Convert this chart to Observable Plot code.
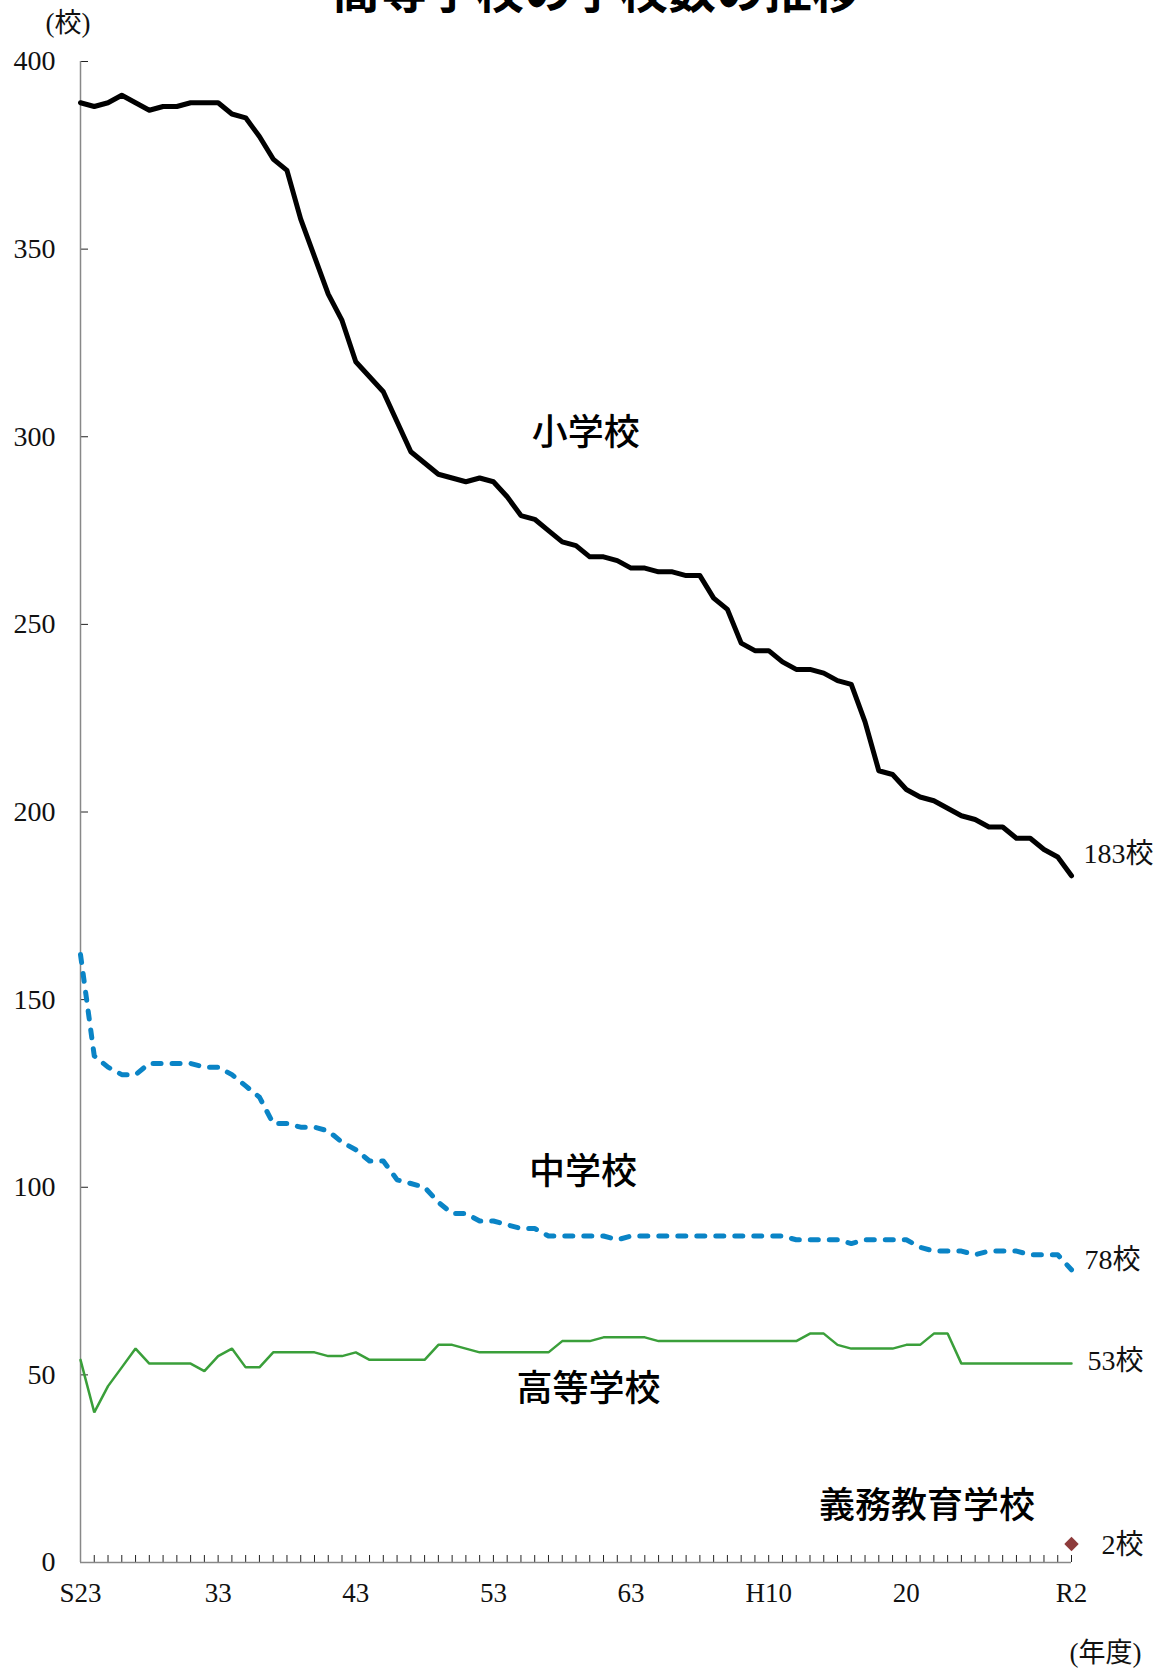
<!DOCTYPE html>
<html><head><meta charset="utf-8">
<script src="https://cdn.jsdelivr.net/npm/d3@7"></script>
<script src="https://cdn.jsdelivr.net/npm/@observablehq/plot@0.6"></script>
<style>
body{margin:0;background:#fff;width:1158px;overflow:hidden}
#title{position:relative;height:14px;overflow:hidden;width:1158px}
#title div{position:absolute;left:0;top:-37px;width:1158px;height:48px;text-align:center;font:700 48px/48px "Noto Sans CJK JP",sans-serif;color:#000;padding-left:34px;box-sizing:border-box;white-space:nowrap}
#chart svg{display:block}
</style></head><body>
<div id="title"><div>高等学校の学校数の推移</div></div>
<div id="chart"></div>
<script>
const years = [1948,1949,1950,1951,1952,1953,1954,1955,1956,1957,1958,1959,1960,1961,1962,1963,1964,1965,1966,1967,1968,1969,1970,1971,1972,1973,1974,1975,1976,1977,1978,1979,1980,1981,1982,1983,1984,1985,1986,1987,1988,1989,1990,1991,1992,1993,1994,1995,1996,1997,1998,1999,2000,2001,2002,2003,2004,2005,2006,2007,2008,2009,2010,2011,2012,2013,2014,2015,2016,2017,2018,2019,2020];
const elementary = [389,388,389,391,389,387,388,388,389,389,389,386,385,380,374,371,358,348,338,331,320,316,312,304,296,293,290,289,288,289,288,284,279,278,275,272,271,268,268,267,265,265,264,264,263,263,257,254,245,243,243,240,238,238,237,235,234,224,211,210,206,204,203,201,199,198,196,196,193,193,190,188,183];
const juniorHigh = [162,135,132,130,130,133,133,133,133,132,132,130,127,124,117,117,116,116,115,112,110,107,107,102,101,100,96,93,93,91,91,90,89,89,87,87,87,87,87,86,87,87,87,87,87,87,87,87,87,87,87,87,86,86,86,86,85,86,86,86,86,84,83,83,83,82,83,83,83,82,82,82,78];
const highSchool = [54,40,47,52,57,53,53,53,53,51,55,57,52,52,56,56,56,56,55,55,56,54,54,54,54,54,58,58,57,56,56,56,56,56,56,59,59,59,60,60,60,60,59,59,59,59,59,59,59,59,59,59,59,61,61,58,57,57,57,57,58,58,61,61,53,53,53,53,53,53,53,53,53];
const gimuYears = [2020];
const gimuValues = [2];
const xTickYears = [1948,1958,1968,1978,1988,1998,2008,2020];
const xTickLabels = ["S23","33","43","53","63","H10","20","R2"];
const yTicks = [0,50,100,150,200,250,300,350,400];
const seriesNames = ["小学校","中学校","高等学校","義務教育学校"];
const endLabels = ["183校","78校","53校","2校"];
const unitLabels = ["(校)","(年度)"];

const rows = years.map((year,i)=>({year, elem: elementary[i], jhs: juniorHigh[i], hs: highSchool[i]}));
const gimu = gimuYears.map((year,i)=>({year, v: gimuValues[i]}));
const last = [rows[rows.length-1]];
const serif = '"Liberation Serif", "Noto Sans CJK JP", serif';
const gothic = '"Noto Sans CJK JP", sans-serif';

const W=1158,H=1655,mt=47,mb=107,ml=80,mr=87;
const frameW=W-ml-mr, frameH=H-mt-mb;

const nameStyle = {fontFamily: gothic, fontSize: 36, fontWeight: 500, fill: "#000"};
const numStyle = {fontFamily: serif, fontSize: 28, fill: "#111", textAnchor: "start"};

const chart = Plot.plot({
  width: W, height: H,
  marginTop: mt, marginBottom: mb, marginLeft: ml, marginRight: mr,
  x: {domain: [1948, 2020], label: null},
  y: {domain: [0, 400], label: null},
  style: {fontFamily: serif, fontSize: "27px", color: "#111", background: "#fff", overflow: "visible"},
  marks: [
    Plot.ruleX(years, {x: d => d, stroke: "#222", strokeWidth: 1, insetTop: frameH - 7}),
    Plot.ruleY(yTicks, {y: d => d, stroke: "#222", strokeWidth: 1, insetRight: frameW - 8}),
    Plot.ruleX([1948], {stroke: "#888", strokeWidth: 1.5}),
    Plot.ruleY([0], {stroke: "#888", strokeWidth: 1.5}),
    Plot.axisY({ticks: yTicks, tickSize: 0, tickPadding: 25, fontSize: 28, fontFamily: serif, label: null}),
    Plot.axisX({ticks: xTickYears, tickSize: 0, tickPadding: 20, fontSize: 27, fontFamily: serif, label: null,
      tickFormat: d => xTickLabels[xTickYears.indexOf(d)]}),
    Plot.line(rows, {x: "year", y: "hs", stroke: "#3a9f3a", strokeWidth: 2.5, strokeLinejoin: "miter"}),
    Plot.line(rows, {x: "year", y: "jhs", stroke: "#0a84c6", strokeWidth: 5, strokeDasharray: "8,11", strokeLinecap: "round", strokeLinejoin: "round"}),
    Plot.line(rows, {x: "year", y: "elem", stroke: "#000", strokeWidth: 5, strokeLinejoin: "round"}),
    Plot.dot(gimu, {x: "year", y: "v", symbol: "diamond2", r: 6.5, fill: "#8e3b3b", stroke: null, dy: -11}),
    Plot.text([seriesNames[0]], {x: 1984.7, y: 301, ...nameStyle}),
    Plot.text([seriesNames[1]], {x: 1984.5, y: 104, ...nameStyle}),
    Plot.text([seriesNames[2]], {x: 1984.9, y: 46, ...nameStyle}),
    Plot.text([seriesNames[3]], {x: 2009.5, y: 15, ...nameStyle}),
    Plot.text(last, {x: "year", y: "elem", text: () => endLabels[0], dx: 12, dy: -22, ...numStyle}),
    Plot.text(last, {x: "year", y: "jhs", text: () => endLabels[1], dx: 13, dy: -10, ...numStyle}),
    Plot.text(last, {x: "year", y: "hs", text: () => endLabels[2], dx: 16, dy: -3, ...numStyle}),
    Plot.text(gimu, {x: "year", y: "v", text: () => endLabels[3], dx: 30, dy: -10, ...numStyle}),
    Plot.text([unitLabels[0]], {frameAnchor: "top-left", dx: -35, dy: -49, fontFamily: serif, fontSize: 27, fill: "#111"}),
    Plot.text([unitLabels[1]], {frameAnchor: "bottom-right", dx: 70, dy: 99, fontFamily: serif, fontSize: 27, fill: "#111"})
  ]
});
document.getElementById("chart").appendChild(chart);
</script>
</body></html>
